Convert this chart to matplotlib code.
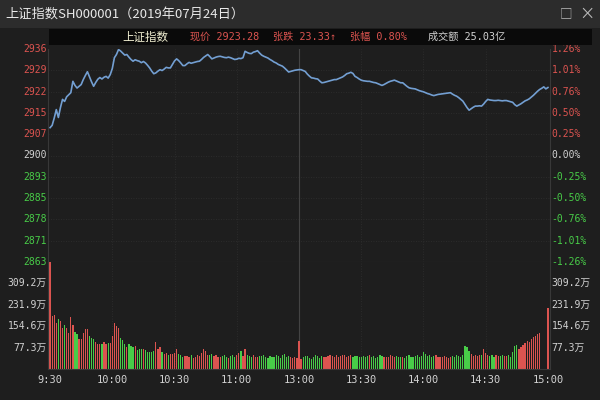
import matplotlib
matplotlib.use('Agg')
import matplotlib.pyplot as plt
from matplotlib.patches import Rectangle

plt.rcParams['font.family'] = ['Noto Sans CJK SC', 'DejaVu Sans']

# --- data ------------------------------------------------------------------
prev_close = 2899.95

# one value per trading minute, 9:30 .. 11:30 / 13:00 .. 15:00 (241 points)
price = [
    2909.5, 2910.3, 2912.8, 2915.7, 2913.0, 2916.4, 2919.2, 2918.5, 2920.1, 2920.8,
    2921.5, 2925.4, 2924.0, 2923.1, 2923.7, 2924.3, 2926.0, 2927.4, 2928.7, 2926.9,
    2925.2, 2923.7, 2925.0, 2926.1, 2926.7, 2926.2, 2926.8, 2927.1, 2926.5, 2927.7,
    2929.8, 2933.5, 2934.6, 2936.3, 2935.8, 2935.1, 2934.4, 2934.6, 2933.7, 2932.9,
    2932.3, 2932.8, 2932.5, 2932.3, 2931.8, 2932.2, 2931.7, 2930.9, 2930.0, 2928.9,
    2928.0, 2928.3, 2928.9, 2929.4, 2929.1, 2929.6, 2930.2, 2930.0, 2930.0, 2931.2,
    2932.4, 2933.1, 2932.5, 2931.7, 2930.8, 2930.8, 2931.4, 2931.9, 2931.6, 2931.8,
    2932.0, 2932.2, 2932.3, 2932.9, 2933.6, 2934.1, 2934.6, 2933.9, 2933.1, 2933.4,
    2933.7, 2933.9, 2934.0, 2933.8, 2933.6, 2933.5, 2933.7, 2933.5, 2933.2, 2932.9,
    2933.0, 2933.3, 2933.2, 2933.5, 2935.7, 2935.3, 2935.0, 2934.9, 2935.4, 2935.6,
    2935.9, 2935.1, 2934.4, 2934.0, 2933.7, 2933.4, 2932.9, 2932.5, 2932.0, 2931.7,
    2931.2, 2930.9, 2930.6, 2930.0, 2929.3, 2928.6, 2928.8, 2929.0, 2929.2, 2929.3,
    2929.4, 2929.4, 2929.1, 2928.8, 2927.9, 2927.2, 2926.6, 2926.5, 2926.3, 2926.2,
    2925.5, 2924.9, 2925.0, 2925.2, 2925.4, 2925.6, 2925.8, 2926.0, 2926.0, 2926.3,
    2926.6, 2926.9, 2927.4, 2928.0, 2928.2, 2928.5, 2928.1, 2927.1, 2926.7, 2926.2,
    2925.8, 2925.6, 2925.5, 2925.4, 2925.4, 2925.2, 2925.0, 2924.9, 2924.6, 2924.3,
    2924.0, 2924.3, 2924.7, 2925.1, 2925.4, 2925.6, 2925.8, 2925.5, 2925.2, 2924.9,
    2924.9, 2924.3, 2923.7, 2923.2, 2923.0, 2922.9, 2922.8, 2922.5, 2922.2, 2922.0,
    2921.8, 2921.5, 2921.2, 2921.0, 2920.7, 2920.5, 2920.7, 2920.9, 2921.0, 2921.1,
    2921.2, 2921.3, 2921.4, 2921.5, 2921.0, 2920.6, 2920.3, 2919.8, 2919.2, 2918.6,
    2917.5, 2916.4, 2915.5, 2916.0, 2916.5, 2916.9, 2916.9, 2917.0, 2916.9, 2917.6,
    2918.5, 2919.2, 2919.0, 2918.9, 2918.8, 2918.8, 2918.9, 2918.8, 2918.7, 2918.8,
    2918.8, 2918.6, 2918.4, 2918.2, 2917.4, 2916.9, 2917.3, 2917.7, 2918.2, 2918.7,
    2919.0, 2919.4, 2920.0, 2920.6, 2921.3, 2922.0, 2922.6, 2923.0, 2923.5, 2922.8, 2923.28,
]

# volume per minute, in 万 (10k) hands
volume = [
    386, 191, 194, 167, 179, 173, 149, 158, 147, 131,
    188, 159, 135, 125, 110, 110, 131, 143, 143, 121,
    113, 107, 99, 91, 89, 91, 99, 91, 95, 95,
    119, 165, 155, 147, 113, 103, 91, 79, 91, 83,
    80, 83, 67, 71, 73, 71, 67, 62, 61, 62,
    64, 99, 74, 80, 62, 55, 59, 49, 53, 55,
    56, 71, 53, 49, 44, 46, 47, 45, 52, 40,
    44, 50, 46, 56, 71, 64, 52, 49, 55, 47,
    50, 45, 42, 48, 52, 44, 40, 46, 49, 43,
    51, 56, 64, 48, 73, 52, 47, 44, 50, 45,
    43, 48, 46, 51, 44, 39, 47, 42, 45, 52,
    46, 41, 49, 55, 44, 47, 42, 38, 45, 40,
    101, 36, 42, 48, 46, 38, 35, 44, 51, 47,
    41, 46, 45, 43, 48, 52, 47, 44, 50, 43,
    46, 49, 52, 45, 48, 50, 44, 47, 46, 42,
    45, 48, 44, 47, 50, 43, 46, 41, 44, 49,
    47, 42, 45, 43, 50, 46, 44, 48, 42, 45,
    44, 41, 47, 52, 45, 43, 46, 49, 44, 47,
    62, 55, 47, 50, 44, 46, 49, 43, 45, 42,
    47, 44, 41, 45, 48, 43, 50, 46, 44, 52,
    83, 78, 64, 55, 48, 52, 46, 50, 49, 74,
    58, 52, 47, 50, 45, 49, 47, 46, 50, 48,
    47, 52, 45, 60, 83, 85, 71, 79, 88, 95,
    101, 97, 108, 114, 120, 127, 130, 0, 0, 0, 222,
]

price_ticks = [2936.49, 2929.18, 2921.87, 2914.56, 2907.26, 2899.95,
               2892.64, 2885.33, 2878.03, 2870.72, 2863.41]
price_labels = ['2936', '2929', '2922', '2915', '2907', '2900',
                '2893', '2885', '2878', '2871', '2863']
pct_labels = ['1.26%', '1.01%', '0.76%', '0.50%', '0.25%', '0.00%',
              '-0.25%', '-0.50%', '-0.76%', '-1.01%', '-1.26%']
vol_ticks = [77.3, 154.6, 231.9, 309.2]
vol_labels = ['77.3万', '154.6万', '231.9万', '309.2万']
vol_max = 386.5
time_ticks = [0, 30, 60, 90, 120, 150, 180, 210, 240]
time_labels = ['9:30', '10:00', '10:30', '11:00', '13:00', '13:30', '14:00', '14:30', '15:00']

# --- colours ---------------------------------------------------------------
BG = '#1e1e1e'
TITLE_BG = '#2c2c2c'
BAR_BG = '#0a0a0a'
GRID = '#303030'
RED = '#dc5450'
GREEN = '#48cc48'
WHITE = '#d2d2d2'
LINE = '#739fd2'
MONO = ['DejaVu Sans Mono', 'Noto Sans CJK SC']

W, H = 600, 400


def box(x, y, w, h):
    # pixel box (top-left origin) -> figure fraction rect
    return [x / W, 1 - (y + h) / H, w / W, h / H]


fig = plt.figure(figsize=(6, 4), dpi=100, facecolor=BG)

# title bar + info bar
fig.add_artist(Rectangle((0, 1 - 28 / H), 1, 28 / H, transform=fig.transFigure,
                         facecolor=TITLE_BG, edgecolor='none'))
fig.add_artist(Rectangle((49 / W, 1 - 45 / H), 543 / W, 16 / H, transform=fig.transFigure,
                         facecolor=BAR_BG, edgecolor='none'))
fig.text(5 / W, 1 - 14 / H, '上证指数SH000001（2019年07月24日）', color='#e8e8e8',
         fontsize=9.5, va='center', ha='left')
fig.text(566 / W, 1 - 14 / H, '□', color='#bbbbbb', fontsize=9, va='center', ha='center')
fig.text(587 / W, 1 - 14 / H, '×', color='#bbbbbb', fontsize=11, va='center', ha='center')

yi = 1 - 37 / H
fig.text(122 / W, yi, '上证指数', color='#f2f0d2', fontsize=8.3, va='center')
fig.text(190 / W, yi, '现价 2923.28', color=RED, fontsize=7.3, va='center', family=MONO)
fig.text(273 / W, yi, '张跌 23.33↑', color=RED, fontsize=7.3, va='center', family=MONO)
fig.text(350 / W, yi, '张幅 0.80%', color=RED, fontsize=7.3, va='center', family=MONO)
fig.text(428 / W, yi, '成交额 25.03亿', color=WHITE, fontsize=7.3, va='center', family=MONO)

# price panel
ax = fig.add_axes(box(48, 49, 502, 213))
ax.set_facecolor(BG)
minutes = list(range(len(price)))
ax.plot(minutes, price, color=LINE, lw=1.2)
ax.set_xlim(-1, 241)
ax.set_ylim(price_ticks[-1], price_ticks[0])
ax.set_xticks([])
ax.set_yticks([])
for s in ax.spines.values():
    s.set_color('#383838')
    s.set_linewidth(0.8)
ax.spines['top'].set_visible(False)
for t in price_ticks[1:-1]:
    ax.axhline(t, color=GRID, lw=0.6, ls=(0, (1, 2)), zorder=0)
for t in time_ticks[1:-1]:
    if t == 120:
        ax.axvline(t, color='#444444', lw=0.8, zorder=0)
    else:
        ax.axvline(t, color=GRID, lw=0.6, ls=(0, (1, 2)), zorder=0)

ytr = ax.get_yaxis_transform()
for i, (t, lab, pl) in enumerate(zip(price_ticks, price_labels, pct_labels)):
    c = RED if i < 5 else (WHITE if i == 5 else GREEN)
    ax.text(-0.003, t, lab, transform=ytr, ha='right', va='center', color=c,
            fontsize=7, family=MONO, clip_on=False)
    ax.text(1.003, t, pl, transform=ytr, ha='left', va='center', color=c,
            fontsize=7, family=MONO, clip_on=False)

# volume panel
axv = fig.add_axes(box(48, 262, 502, 107))
axv.set_facecolor(BG)
colors = [RED] + [RED if price[i] >= price[i - 1] else GREEN for i in range(1, len(price))]
axv.bar(minutes, volume, width=0.6, color=colors, linewidth=0, antialiased=False)
axv.set_xlim(-1, 241)
axv.set_ylim(0, vol_max)
axv.set_xticks([])
axv.set_yticks([])
for s in axv.spines.values():
    s.set_color('#383838')
    s.set_linewidth(0.8)
axv.spines['top'].set_visible(False)
for t in time_ticks[1:-1]:
    if t == 120:
        axv.axvline(t, color='#444444', lw=0.8, zorder=0)
    else:
        axv.axvline(t, color=GRID, lw=0.6, ls=(0, (1, 2)), zorder=0)

vtr = axv.get_yaxis_transform()
for t, lab in zip(vol_ticks, vol_labels):
    axv.text(-0.003, t, lab, transform=vtr, ha='right', va='center', color=WHITE,
             fontsize=7, family=MONO, clip_on=False)
    axv.text(1.003, t, lab, transform=vtr, ha='left', va='center', color=WHITE,
             fontsize=7, family=MONO, clip_on=False)

xtr = axv.get_xaxis_transform()
for t, lab in zip(time_ticks, time_labels):
    axv.text(t, -11 / 107, lab, transform=xtr, ha='center', va='center', color=WHITE,
             fontsize=7.5, family=MONO, clip_on=False)

fig.savefig('out.png', dpi=100, facecolor=BG)
